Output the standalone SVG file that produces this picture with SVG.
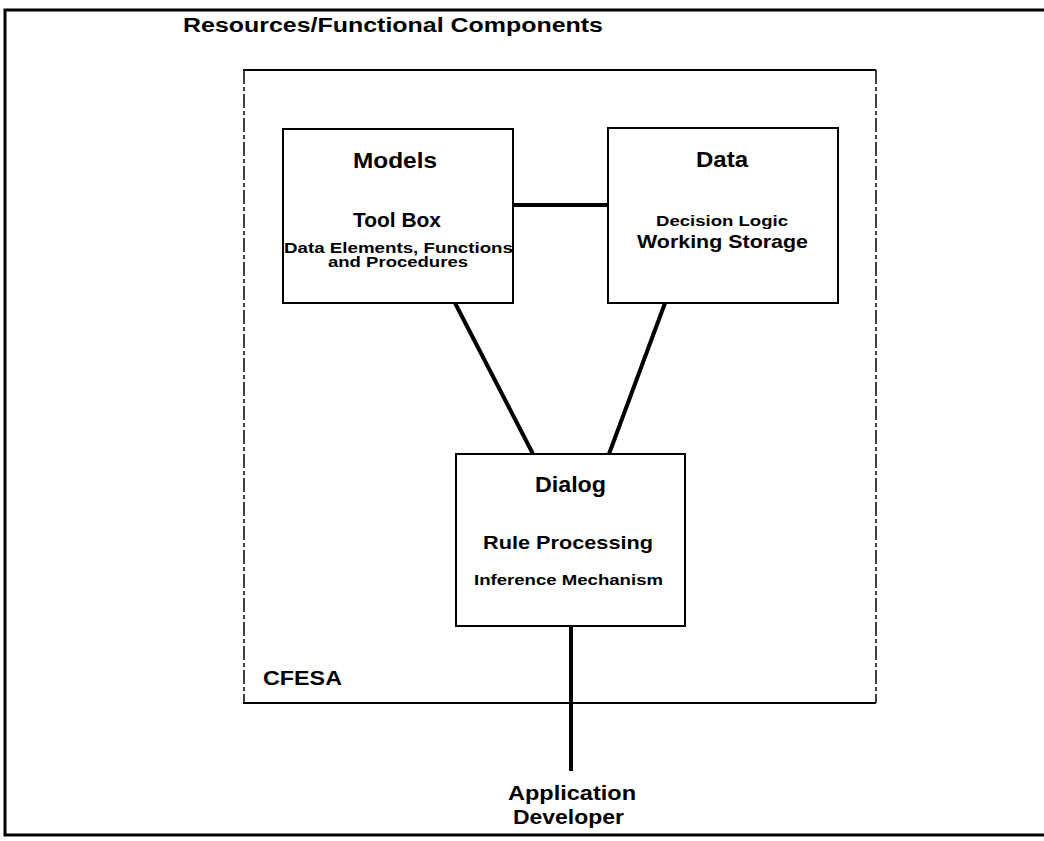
<svg xmlns="http://www.w3.org/2000/svg" width="1044" height="841" viewBox="0 0 1044 841">
<style>
text{font-family:"Liberation Sans",Arial,sans-serif;font-weight:bold;fill:#000;}
.box{fill:none;stroke:#000;stroke-width:2;}
.conn{stroke:#000;stroke-width:4;fill:none;stroke-linecap:butt;}
.side{stroke:#000;stroke-width:1.5;stroke-dasharray:14 3 4 3;fill:none;}
</style>
<rect width="1044" height="841" fill="#fff"/>
<g id="frame">
<path d="M1044 10 H5 V835 H1044" fill="none" stroke="#000" stroke-width="3"/>
<text x="183" y="32" font-size="20" textLength="420" lengthAdjust="spacingAndGlyphs">Resources/Functional Components</text>
</g>
<g id="cfesa">
<line x1="243" y1="70" x2="876" y2="70" stroke="#000" stroke-width="2"/>
<line x1="243" y1="703" x2="876" y2="703" stroke="#000" stroke-width="2"/>
<line class="side" x1="244" y1="70" x2="244" y2="703"/>
<line class="side" x1="876" y1="70" x2="876" y2="703"/>
<text x="263" y="685" font-size="21" textLength="79" lengthAdjust="spacingAndGlyphs">CFESA</text>
</g>
<g id="connectors">
<line class="conn" x1="513" y1="205" x2="608" y2="205"/>
<line class="conn" x1="455" y1="303" x2="533" y2="454"/>
<line class="conn" x1="665" y1="303" x2="609" y2="454"/>
<line class="conn" x1="571" y1="626" x2="571" y2="771"/>
</g>
<g id="models">
<rect class="box" x="283" y="129" width="230" height="174"/>
<text x="353" y="168" font-size="22" textLength="84" lengthAdjust="spacingAndGlyphs">Models</text>
<text x="353" y="227" font-size="20" textLength="88" lengthAdjust="spacingAndGlyphs">Tool Box</text>
<text x="284" y="253" font-size="14" textLength="229" lengthAdjust="spacingAndGlyphs">Data Elements, Functions</text>
<text x="328" y="267" font-size="14" textLength="140" lengthAdjust="spacingAndGlyphs">and Procedures</text>
</g>
<g id="data">
<rect class="box" x="608" y="128" width="230" height="175"/>
<text x="696" y="167" font-size="22" textLength="52" lengthAdjust="spacingAndGlyphs">Data</text>
<text x="656" y="226" font-size="14" textLength="132" lengthAdjust="spacingAndGlyphs">Decision Logic</text>
<text x="637" y="248" font-size="19" textLength="171" lengthAdjust="spacingAndGlyphs">Working Storage</text>
</g>
<g id="dialog">
<rect class="box" x="456" y="454" width="229" height="172"/>
<text x="535" y="492" font-size="22" textLength="71" lengthAdjust="spacingAndGlyphs">Dialog</text>
<text x="483" y="549" font-size="19" textLength="170" lengthAdjust="spacingAndGlyphs">Rule Processing</text>
<text x="474" y="585" font-size="15" textLength="189" lengthAdjust="spacingAndGlyphs">Inference Mechanism</text>
</g>
<g id="developer">
<text x="508" y="800" font-size="20" textLength="128" lengthAdjust="spacingAndGlyphs">Application</text>
<text x="513" y="824" font-size="20" textLength="111" lengthAdjust="spacingAndGlyphs">Developer</text>
</g>
</svg>
